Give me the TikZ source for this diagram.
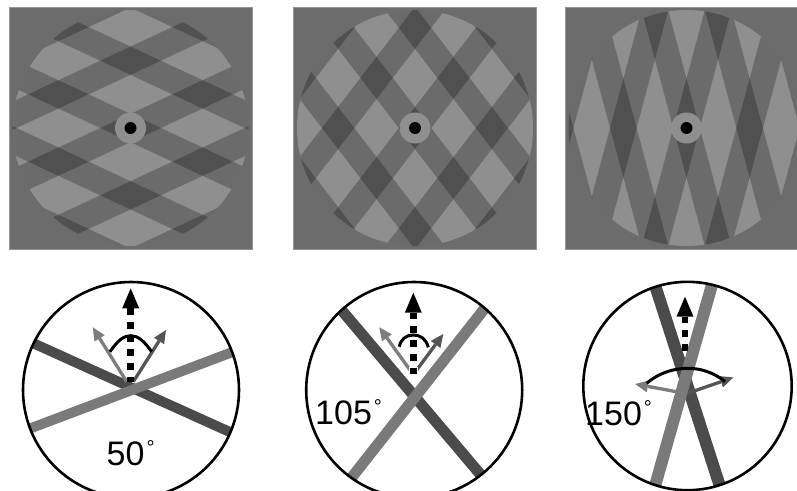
\documentclass[tikz,border=0pt]{standalone}
\usepackage{fontspec}
\setmainfont{Liberation Sans}
\usetikzlibrary{arrows.meta,calc}
\definecolor{outg}{RGB}{108,108,108}
\definecolor{lightg}{RGB}{143,143,143}
\definecolor{panelrim}{RGB}{150,150,150}
\definecolor{bardark}{RGB}{75,75,75}
\definecolor{barlight}{RGB}{122,122,122}
\definecolor{arrlight}{RGB}{125,125,125}
\definecolor{arrdark}{RGB}{85,85,85}
\tikzset{
  stripe/.style={fill=black, fill opacity=0.25},
  dashedarrow/.style={draw=black, line width=6.5pt, dash pattern=on 6.7pt off 7pt,
    {Triangle[width=17pt,length=20pt,line width=0pt]}-},
  grayarrow/.style={line width=3.3pt, -{Triangle[width=12pt,length=13pt,line width=0pt]}},
  anglearc/.style={draw=black, line width=3pt},
  bar/.style={line width=10pt},
  ring/.style={draw=black, line width=2.6pt},
  numlabel/.style={inner sep=0pt, anchor=base west, font=\fontsize{34}{34}\selectfont},
}
\newcommand{\degsym}{\hspace{2pt}\raisebox{11pt}{\fontsize{20}{20}\selectfont °}}
\newcommand{\plaidpanel}[2]{%
  \fill[outg, draw=panelrim, line width=0.7pt] (#1-121.5,7.5) rectangle (#1+121.5,249);
  \begin{scope}
    \clip (#1,128) circle (118);
    \fill[lightg] (#1-130,0) rectangle (#1+130,260);
    \foreach \s in {#2,-#2}{
      \begin{scope}[shift={(#1,128)},rotate=\s]
        \foreach \k in {-3,...,3}{\fill[stripe] (-200,\k*61-12.8) rectangle (200,\k*61+12.8);}
      \end{scope}}
  \end{scope}
  \fill[lightg] (#1,128) circle (15.5);
  \fill[black] (#1,128) circle (6);
}
\begin{document}
\begin{tikzpicture}[x=1pt,y=-1pt]
\useasboundingbox (0,0) rectangle (797,490);
\clip (0,0) rectangle (797,490);
\fill[white] (0,0) rectangle (797,490);
% top plaid panels
\plaidpanel{130.5}{25}
\plaidpanel{415}{52.5}
\plaidpanel{686.5}{75}
% ---- bottom circle 1 (50 deg)
\coordinate (C1) at (131,390);
\coordinate (X1) at (134.6,389);
\begin{scope}
  \clip (C1) circle (108);
  \draw[bar, bardark] ($(X1)+(24.3:170)$) -- ($(X1)+(204.3:170)$);
  \draw[bar, barlight] ($(X1)+(-20.7:170)$) -- ($(X1)+(159.3:170)$);
\end{scope}
\draw[grayarrow, arrlight] (126.7,381.7) -- (92.7,327.3);
\draw[grayarrow, arrdark] (133.3,381.7) -- (166,330);
\draw[anglearc] (110,351.7) .. controls (118,340) and (124,335.7) .. (130.7,335.7)
  .. controls (137.4,335.7) and (143.4,340) .. (151.7,351.7);
\draw[dashedarrow] (130.7,288.3) -- (130.7,381.7);
\draw[ring] (C1) circle (108);
\node[numlabel] (l1) at (106.5,465) {50\degsym};
% ---- bottom circle 2 (105 deg)
\coordinate (C2) at (414.2,390);
\coordinate (X2) at (415,397);
\begin{scope}
  \clip (C2) circle (108);
  \draw[bar, bardark, line width=11pt] ($(X2)+(49.8:170)$) -- ($(X2)+(229.8:170)$);
  \draw[bar, barlight, line width=11pt] ($(X2)+(-51.8:170)$) -- ($(X2)+(128.2:170)$);
\end{scope}
\draw[grayarrow, arrlight] (410,370) -- (379.3,327.3);
\draw[grayarrow, arrdark] (416.7,370) -- (443.3,334);
\draw[anglearc] (399.3,346.7) .. controls (401,339) and (406,335) .. (413.3,335)
  .. controls (420.6,335) and (426,339) .. (428.3,347.3);
\draw[white, line width=9pt] (413.3,367) -- (413.3,382);
\draw[dashedarrow] (413.3,292.7) -- (413.3,380);
\draw[ring] (C2) circle (108);
\node[numlabel] (l2) at (315,424.3) {105\degsym};
% ---- bottom circle 3 (150 deg)
\coordinate (C3) at (687.5,386);
\coordinate (X3) at (685.3,379);
\begin{scope}
  \clip (C3) circle (104.2);
  \draw[bar, bardark, line width=12pt] ($(X3)+(72.1:170)$) -- ($(X3)+(252.1:170)$);
  \draw[bar, barlight, line width=12pt] ($(X3)+(-74.2:170)$) -- ($(X3)+(105.8:170)$);
\end{scope}
\draw[grayarrow, arrlight] (683.3,393) -- (635,384);
\draw[grayarrow, arrdark] (688.3,393) -- (733.3,377.5);
\draw[anglearc] (646.7,383.3) .. controls (660,372) and (675,368.3) .. (688.3,368.3)
  .. controls (701,368.3) and (715,373) .. (725,381.7);
\draw[dashedarrow] (685,296.7) -- (685,356.7);
\draw[ring] (C3) circle (104.2);
\node[numlabel] (l3) at (585,425) {150\degsym};
\end{tikzpicture}
\end{document}
